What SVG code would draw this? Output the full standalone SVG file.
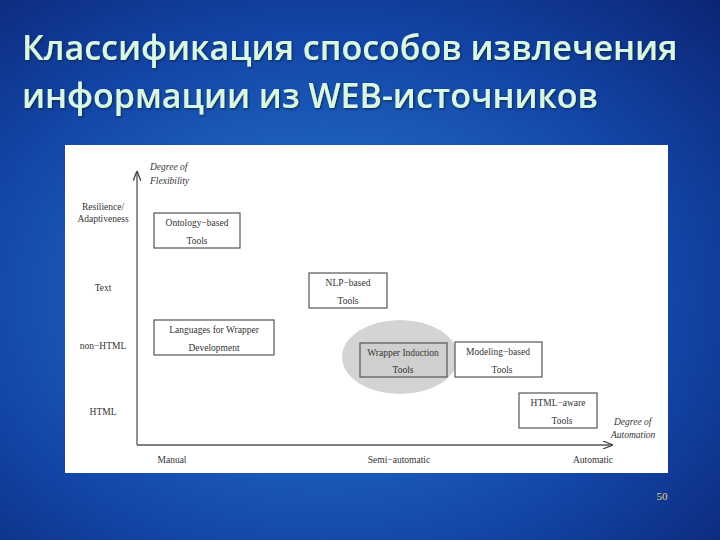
<svg xmlns="http://www.w3.org/2000/svg" width="720" height="540" viewBox="0 0 720 540">
<defs>
<radialGradient id="bg" cx="0.45" cy="0.55" r="0.8">
<stop offset="0" stop-color="#2a7fd6"/><stop offset="0.6" stop-color="#1346a8"/><stop offset="1" stop-color="#0a2270"/>
</radialGradient>
<marker id="ar" markerWidth="8" markerHeight="6" refX="7" refY="3" orient="auto"><path d="M0,0 L8,3 L0,6" fill="none" stroke="#444" stroke-width="1"/></marker>
<filter id="gl"><feDropShadow dx="1" dy="1" stdDeviation="1.2" flood-color="#0a2a40"/></filter>
</defs>
<style>
.t{font-family:"Liberation Serif",serif;font-size:9.5px;fill:#333}
.i{font-style:italic}
.b{fill:#fff;stroke:#555;stroke-width:1.2}
.ttl{font-family:"Open Sans","Noto Sans",sans-serif;font-size:34px;font-weight:600;fill:#d9f7e6;filter:url(#gl)}
</style>
<rect width="720" height="540" fill="url(#bg)"/>
<text class="ttl" x="22" y="60">Классификация способов извлечения</text>
<text class="ttl" x="22" y="108">информации из WEB-источников</text>
<rect x="65" y="145" width="603" height="328" fill="#fff"/>
<g id="connectors" stroke="#555" stroke-width="1.3" fill="none">
<line x1="137" y1="445" x2="137" y2="172" marker-end="url(#ar)"/>
<line x1="137" y1="445" x2="612" y2="445" marker-end="url(#ar)"/>
</g>
<g id="axis-labels">
<text class="t i" x="150" y="170">Degree of</text>
<text class="t i" x="150" y="184">Flexibility</text>
<text class="t" x="103" y="210" text-anchor="middle">Resilience/</text>
<text class="t" x="103" y="222" text-anchor="middle">Adaptiveness</text>
<text class="t" x="103" y="291" text-anchor="middle">Text</text>
<text class="t" x="103" y="349" text-anchor="middle">non−HTML</text>
<text class="t" x="103" y="415" text-anchor="middle">HTML</text>
<text class="t i" x="614" y="425">Degree of</text>
<text class="t i" x="611" y="438">Automation</text>
<text class="t" x="172" y="463" text-anchor="middle">Manual</text>
<text class="t" x="399" y="463" text-anchor="middle">Semi−automatic</text>
<text class="t" x="593" y="463" text-anchor="middle">Automatic</text>
</g>
<g id="ontology"><rect class="b" x="154" y="213" width="86" height="35"/><text class="t" x="197" y="226" text-anchor="middle">Ontology−based</text><text class="t" x="197" y="244" text-anchor="middle">Tools</text></g>
<g id="nlp"><rect class="b" x="309" y="273" width="78" height="35"/><text class="t" x="348" y="286" text-anchor="middle">NLP−based</text><text class="t" x="348" y="304" text-anchor="middle">Tools</text></g>
<g id="languages"><rect class="b" x="154" y="320" width="120" height="35"/><text class="t" x="214" y="333" text-anchor="middle">Languages for Wrapper</text><text class="t" x="214" y="351" text-anchor="middle">Development</text></g>
<g id="wrapper"><ellipse cx="400" cy="357" rx="58" ry="37" fill="#d4d4d4"/><rect x="360" y="343" width="87" height="34" fill="#cfcfcf" stroke="#555" stroke-width="1.2"/><text class="t" x="403" y="356" text-anchor="middle">Wrapper Induction</text><text class="t" x="403" y="373" text-anchor="middle">Tools</text></g>
<g id="modeling"><rect class="b" x="455" y="342" width="87" height="35"/><text class="t" x="498" y="355" text-anchor="middle">Modeling−based</text><text class="t" x="502" y="373" text-anchor="middle">Tools</text></g>
<g id="htmlaware"><rect class="b" x="519" y="393" width="78" height="35"/><text class="t" x="558" y="406" text-anchor="middle">HTML−aware</text><text class="t" x="562" y="424" text-anchor="middle">Tools</text></g>
<text x="662" y="500" text-anchor="middle" font-family="Liberation Serif,serif" font-size="11" fill="#e8d27a">50</text>
</svg>
